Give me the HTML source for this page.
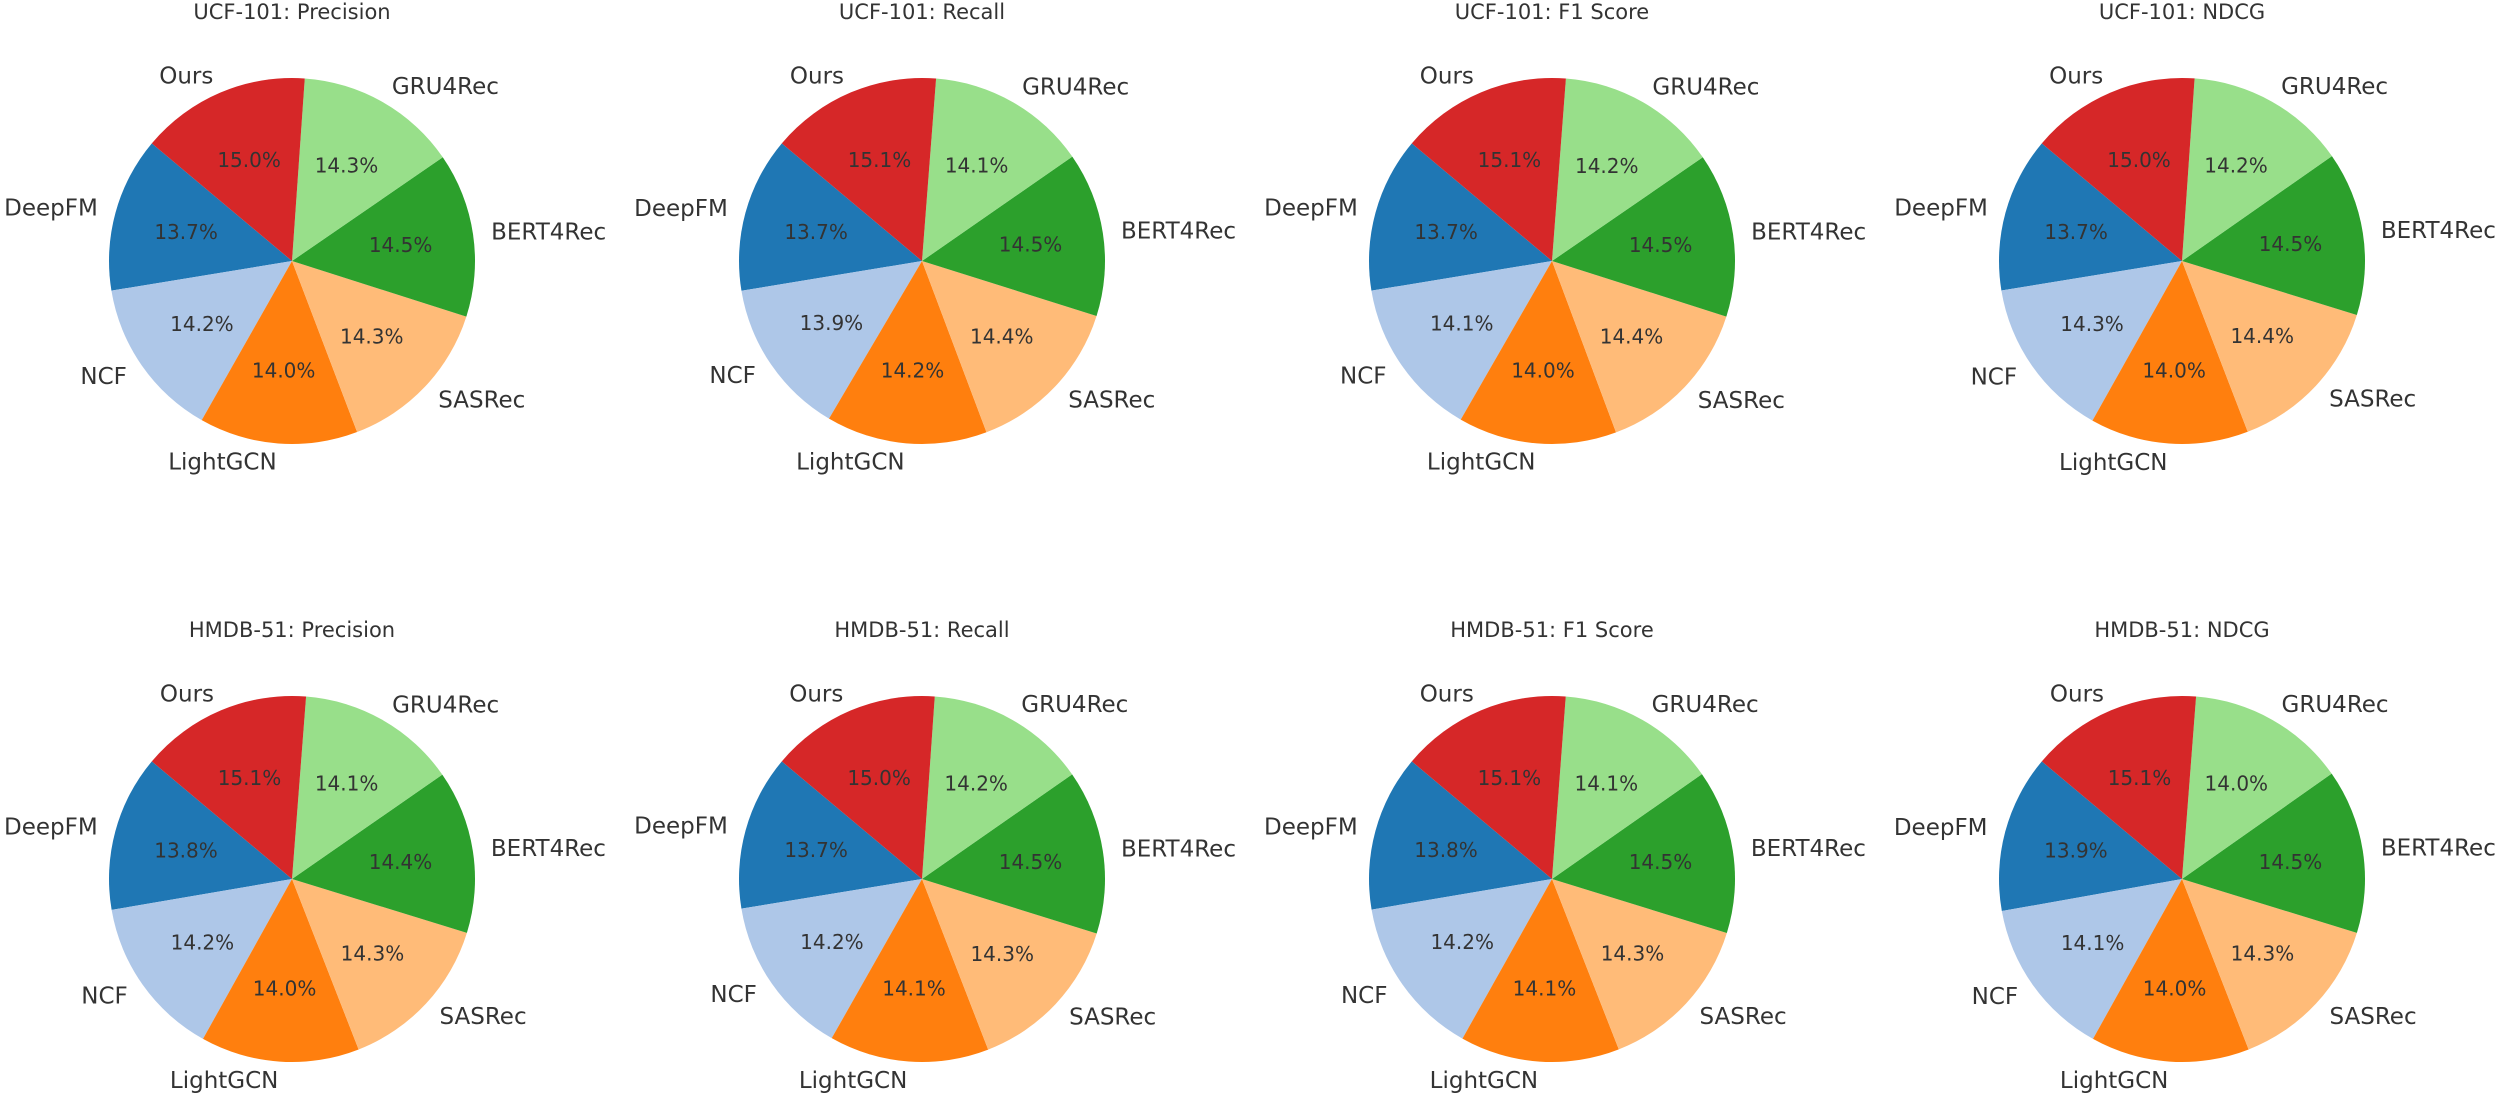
<!DOCTYPE html>
<html><head><meta charset="utf-8"><style>
body{margin:0;background:#fff;}
svg{display:block;font-family:"DejaVu Sans","Liberation Sans",sans-serif;}
</style></head><body>
<svg id="chart" width="2500" height="1096"></svg>
<script>
const methods = ["DeepFM","NCF","LightGCN","SASRec","BERT4Rec","GRU4Rec","Ours"];
const colors = ["#1f77b4","#aec7e8","#ff7f0e","#ffbb78","#2ca02c","#98df8a","#d62728"];
const titles = ["UCF-101: Precision","UCF-101: Recall","UCF-101: F1 Score","UCF-101: NDCG","HMDB-51: Precision","HMDB-51: Recall","HMDB-51: F1 Score","HMDB-51: NDCG"];
const ucfPrecision = [13.7,14.2,14.0,14.3,14.5,14.3,15.0];
const ucfRecall = [13.7,13.9,14.2,14.4,14.5,14.1,15.1];
const ucfF1 = [13.7,14.1,14.0,14.4,14.5,14.2,15.1];
const ucfNdcg = [13.7,14.3,14.0,14.4,14.5,14.2,15.0];
const hmdbPrecision = [13.8,14.2,14.0,14.3,14.4,14.1,15.1];
const hmdbRecall = [13.7,14.2,14.1,14.3,14.5,14.2,15.0];
const hmdbF1 = [13.8,14.2,14.1,14.3,14.5,14.1,15.1];
const hmdbNdcg = [13.9,14.1,14.0,14.3,14.5,14.0,15.1];
const series = [ucfPrecision,ucfRecall,ucfF1,ucfNdcg,hmdbPrecision,hmdbRecall,hmdbF1,hmdbNdcg];

const NS="http://www.w3.org/2000/svg";
const svg=document.getElementById('chart');
const R=183, startAngle=140;
function mk(tag,attrs,parent){const e=document.createElementNS(NS,tag);for(const k in attrs)e.setAttribute(k,attrs[k]);parent.appendChild(e);return e;}
function pt(cx,cy,r,deg){const a=deg*Math.PI/180;return [cx+r*Math.cos(a),cy-r*Math.sin(a)];}
series.forEach((vals,i)=>{
  const col=i%4,row=Math.floor(i/4);
  const cx=292+col*630, cy=261+row*618;
  const g=mk('g',{},svg);
  
  
  const t=mk('text',{x:cx,y:cy-242,'text-anchor':'middle','font-size':'21','fill':'#333'},g);
  t.textContent=titles[i];
  
  
  const total=vals.reduce((a,b)=>a+b,0);
  let a0=startAngle;
  vals.forEach((v,j)=>{
    const sweep=v/total*360, a1=a0+sweep, mid=a0+sweep/2;
    const p0=pt(cx,cy,R,a0), p1=pt(cx,cy,R,a1);
    const path=mk('path',{d:`M${cx},${cy} L${p0[0]},${p0[1]} A${R},${R} 0 ${sweep>180?1:0} 0 ${p1[0]},${p1[1]} Z`,fill:colors[j]},g);
    
    
    const pp=pt(cx,cy,R*0.6,mid);
    const pt1=mk('text',{x:pp[0],y:pp[1]+7,'text-anchor':'middle','font-size':'20','fill':'#333'},g);
    pt1.textContent=v.toFixed(1)+'%';
    
    
    const lp=pt(cx,cy,R*1.1,mid);
    const lt=mk('text',{x:lp[0],y:lp[1]+8,'text-anchor':lp[0]<cx?'end':'start','font-size':'23','fill':'#333'},g);
    lt.textContent=methods[j];
    
    
    a0=a1;
  });
});
</script>
</body></html>
